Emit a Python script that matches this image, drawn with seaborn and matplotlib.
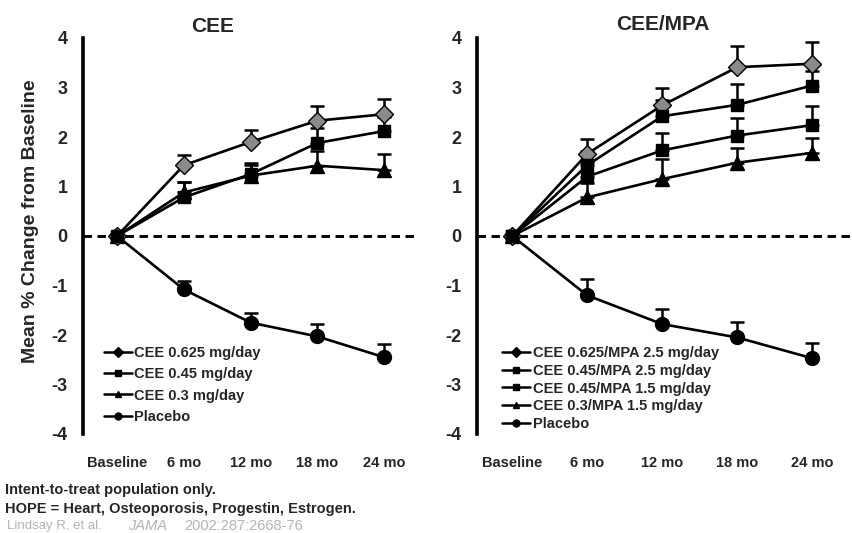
import matplotlib
matplotlib.use("Agg")
import matplotlib.pyplot as plt
from matplotlib.lines import Line2D
import numpy as np
import seaborn as sns

sns.set_style("white")
plt.rcParams['font.family'] = ['Liberation Sans', 'DejaVu Sans']
plt.rcParams['font.weight'] = 'bold'

categories = ["Baseline", "6 mo", "12 mo", "18 mo", "24 mo"]
yticks = [-4, -3, -2, -1, 0, 1, 2, 3, 4]

# Left panel (CEE)
cee_labels = ["CEE 0.625 mg/day", "CEE 0.45 mg/day", "CEE 0.3 mg/day", "Placebo"]
cee_0625 = [0, 1.43, 1.90, 2.33, 2.46]
cee_045 = [0, 0.78, 1.25, 1.88, 2.12]
cee_03 = [0, 0.88, 1.22, 1.42, 1.33]
cee_plac = [0, -1.08, -1.75, -2.03, -2.45]
cee_0625_err = [0, 0.21, 0.24, 0.30, 0.30]
cee_045_err = [0, 0.32, 0.22, 0.30, 0.28]
cee_03_err = [0, 0.22, 0.22, 0.30, 0.33]
cee_plac_err = [0, 0.18, 0.20, 0.25, 0.27]

# Right panel (CEE/MPA)
mpa_labels = ["CEE 0.625/MPA 2.5 mg/day", "CEE 0.45/MPA 2.5 mg/day",
              "CEE 0.45/MPA 1.5 mg/day", "CEE 0.3/MPA 1.5 mg/day", "Placebo"]
mpa_0625_25 = [0, 1.66, 2.64, 3.41, 3.48]
mpa_045_25 = [0, 1.43, 2.42, 2.65, 3.04]
mpa_045_15 = [0, 1.20, 1.73, 2.03, 2.24]
mpa_03_15 = [0, 0.78, 1.15, 1.48, 1.68]
mpa_plac = [0, -1.20, -1.78, -2.05, -2.47]
mpa_0625_25_err = [0, 0.30, 0.36, 0.42, 0.44]
mpa_045_25_err = [0, 0.28, 0.32, 0.42, 0.30]
mpa_045_15_err = [0, 0.30, 0.35, 0.36, 0.38]
mpa_03_15_err = [0, 0.30, 0.40, 0.30, 0.30]
mpa_plac_err = [0, 0.34, 0.30, 0.32, 0.31]

styles = {
    'D': dict(marker='D', markersize=9.5, markerfacecolor='#8a8a8a'),
    's': dict(marker='s', markersize=9, markerfacecolor='black'),
    '^': dict(marker='^', markersize=10, markerfacecolor='black'),
    'o': dict(marker='o', markersize=10, markerfacecolor='black'),
}
# drawing order: placebo, triangle, diamond, squares (squares on top)
draw_rank = {'o': 0, '^': 1, 'D': 2, 's': 3}

fig = plt.figure(figsize=(8.52, 5.33), dpi=100)
ax1 = fig.add_axes([83/852, 1-434/533, 334/852, 396/533])
ax2 = fig.add_axes([477/852, 1-434/533, 375/852, 396/533])

x = np.arange(len(categories))


def draw(ax, series, errs, marks, labels, xlim, legend_spacing, legx):
    ax.axhline(0, color='black', lw=2.1, ls=(0, (2.9, 1.9)), zorder=1)
    for vals, err, m in zip(series, errs, marks):
        e = np.array(err)
        ax.errorbar(x[1:], np.array(vals)[1:], yerr=[np.zeros(4), e[1:]],
                    fmt='none', ecolor='black', elinewidth=1.8, capsize=5,
                    capthick=1.8, zorder=2)
    order = sorted(range(len(series)), key=lambda i: draw_rank[marks[i]])
    for k, i in enumerate(order):
        sns.lineplot(x=x, y=series[i], ax=ax, color='black', lw=1.9,
                     markeredgecolor='black', markeredgewidth=1.0,
                     legend=False, zorder=3 + k * 0.1, **styles[marks[i]])
    ax.set_xlim(*xlim)
    ax.set_ylim(-4, 4)
    ax.set_yticks(yticks)
    ax.set_yticklabels([str(t) for t in yticks], fontsize=13, fontweight='bold')
    ax.set_xticks(x)
    ax.set_xticklabels(categories, fontsize=10.5, fontweight='bold')
    ax.tick_params(axis='y', length=0, pad=11)
    ax.tick_params(axis='x', length=0, pad=16)
    for s in ['top', 'right', 'bottom']:
        ax.spines[s].set_visible(False)
    ax.spines['left'].set_linewidth(2.6)
    ax.spines['left'].set_color('black')
    ax.set_xlabel('')
    ax.set_ylabel('')
    ax.grid(False)
    handles = [Line2D([0], [0], color='black', lw=1.8, marker=styles[m]['marker'],
                      markersize=5, markerfacecolor='black', markeredgecolor='black')
               for m in marks]
    ax.legend(handles, labels, loc='upper left', bbox_to_anchor=(legx, 0.237),
              frameon=False, prop={'weight': 'bold', 'size': 10.5},
              handlelength=1.9, handletextpad=0.2, labelspacing=legend_spacing,
              borderaxespad=0)


draw(ax1, [cee_0625, cee_045, cee_03, cee_plac],
     [cee_0625_err, cee_045_err, cee_03_err, cee_plac_err],
     ['D', 's', '^', 'o'], cee_labels, (-0.51, 4.49), 0.5, 0.045)
draw(ax2, [mpa_0625_25, mpa_045_25, mpa_045_15, mpa_03_15, mpa_plac],
     [mpa_0625_25_err, mpa_045_25_err, mpa_045_15_err, mpa_03_15_err, mpa_plac_err],
     ['D', 's', 's', '^', 'o'], mpa_labels, (-0.47, 4.53), 0.26, 0.051)

fig.text(213/852, 1-26/533, "CEE", ha='center', va='center', fontsize=15, fontweight='bold')
fig.text(663/852, 1-24/533, "CEE/MPA", ha='center', va='center', fontsize=15, fontweight='bold')
fig.text(31/852, 1-221/533, "Mean % Change from Baseline", rotation=90, ha='center',
         va='center', fontsize=14, fontweight='bold')

fig.text(5/852, 1-490/533, "Intent-to-treat population only.", ha='left', va='center',
         fontsize=10.5, fontweight='bold')
fig.text(5/852, 1-509/533, "HOPE = Heart, Osteoporosis, Progestin, Estrogen.", ha='left',
         va='center', fontsize=10.5, fontweight='bold')
fig.text(7/852, 1-526/533, "Lindsay R, et al.", ha='left', va='center',
         fontsize=9.5, fontweight='normal', color='#b4b4b4')
fig.text(128/852, 1-526/533, "JAMA", ha='left', va='center', fontsize=10.5,
         fontweight='normal', style='italic', color='#b4b4b4')
fig.text(184/852, 1-526/533, "2002:287:2668-76", ha='left', va='center',
         fontsize=10.5, fontweight='normal', color='#b4b4b4')

fig.savefig("out.png", dpi=100)
